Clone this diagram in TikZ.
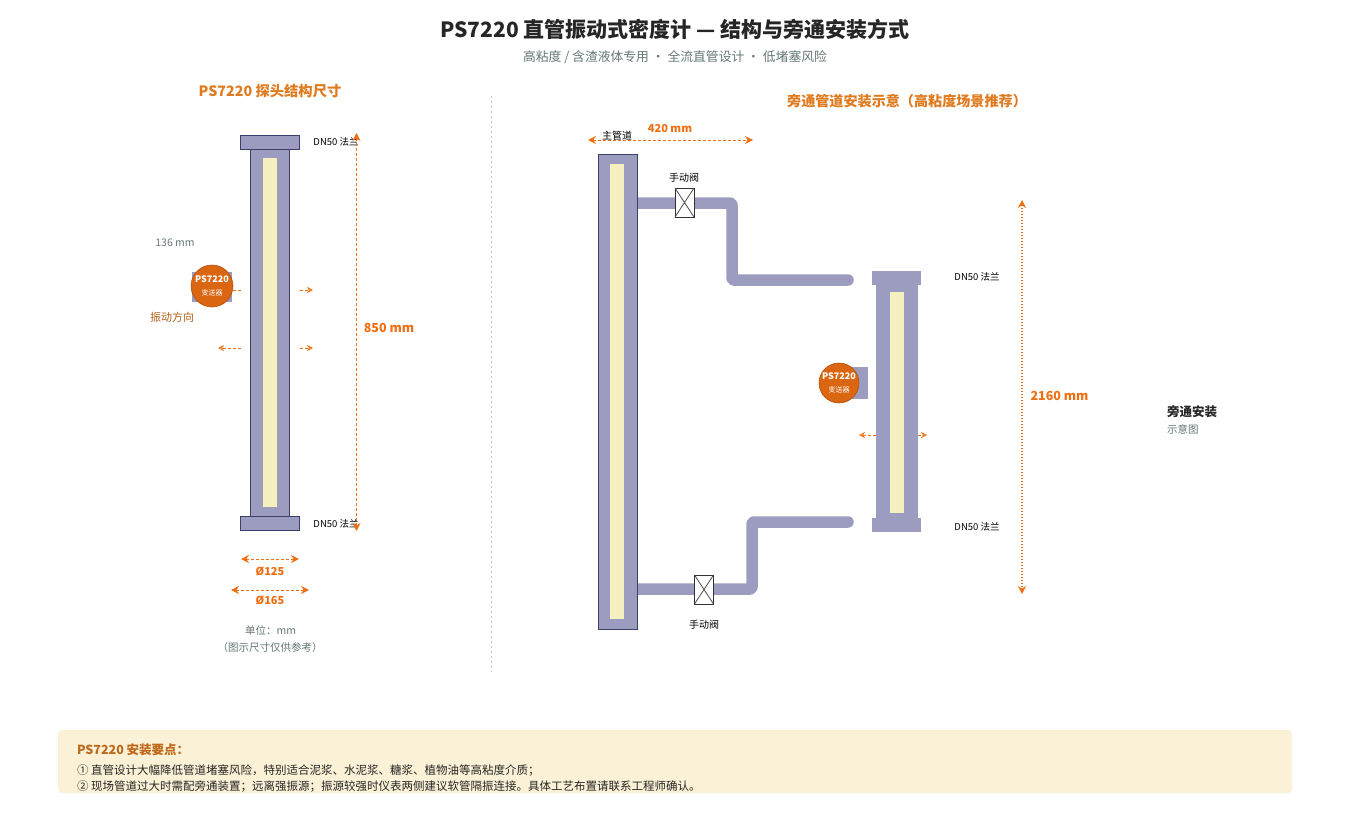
\documentclass[tikz,border=0pt]{standalone}
\usepackage{fontspec}
\setmainfont{Noto Sans CJK SC}
\usetikzlibrary{arrows.meta,calc}
\newcommand\fsz[1]{\fontsize{#1}{#1}\selectfont}
\definecolor{pipecol}{HTML}{9C9CC0}
\definecolor{linecol}{HTML}{3A4068}
\definecolor{corecol}{HTML}{F6EFC0}
\definecolor{dimcol}{HTML}{EE6F12}
\definecolor{headcol}{HTML}{E07A1E}
\definecolor{graycol}{HTML}{667777}
\definecolor{panelcol}{HTML}{FBF1D6}
\tikzset{
  lbl/.style={inner sep=0pt,outer sep=0pt,text=#1},
  lbl/.default=black,
  box/.style={inner sep=0pt,outer sep=0pt,rectangle,minimum width=#1},
  pipeO/.style={box=#1,fill=pipecol,draw=linecol,line width=.8pt},
  pipeN/.style={box=#1,fill=pipecol},
  core/.style={box=#1,fill=corecol},
  flow/.style={draw=pipecol,line width=11.5pt,line cap=round,line join=round,rounded corners=2pt},
  dim/.style={draw=dimcol,line width=1pt,dash pattern=on 3pt off 2pt,{Stealth[length=8pt,width=8pt]}-{Stealth[length=8pt,width=8pt]}},
  vib/.style={draw=dimcol,line width=.8pt,dash pattern=on 3pt off 2pt,-{Stealth[length=6pt,width=6pt,open]}},
  sensor/.style={circle,inner sep=0pt,outer sep=0pt,minimum size=#1,fill=dimcol!92!black,draw=dimcol!75!black,line width=.6pt,text=white,align=center},
  valvebox/.style={inner sep=0pt,outer sep=0pt,rectangle,minimum width=19pt,minimum height=29pt,fill=white,draw=black!80,line width=.8pt},
}
\begin{document}
\begin{tikzpicture}[x=1pt,y=-1pt]
\useasboundingbox (0,0) rectangle (1350,822);
\fill[white] (0,0) rectangle (1350,822);

% headings
\node[lbl=black!85,font=\fsz{21}\bfseries] (title) at (675,29.5) {PS7220 直管振动式密度计 — 结构与旁通安装方式};
\node[lbl=graycol,font=\fsz{12.8}] (subtitle) at (675,57.5) {高粘度 / 含渣液体专用 · 全流直管设计 · 低堵塞风险};
\node[lbl=headcol,font=\fsz{14.3}\bfseries] (lefthead) at (270,91) {PS7220 探头结构尺寸};
\node[lbl=headcol,font=\fsz{14.1}\bfseries] (righthead) at (907,101) {旁通管道安装示意（高粘度场景推荐）};

% divider
\coordinate (divtop) at (491.5,96);
\coordinate (divbot) at (491.5,672);
\draw[black!25,line width=1pt,dash pattern=on 2pt off 3pt] (divtop) -- (divbot);

% left probe
\node[pipeO=39pt,minimum height=367pt] (lbody) at (270,333) {};
\node[pipeO=59pt,minimum height=14pt] (lftop) at (270,142) {};
\node[pipeO=59pt,minimum height=14pt] (lfbot) at (270,523.5) {};
\node[core=14pt,minimum height=349pt] (lcore) at (270,332.5) {};

\coordinate (va2) at (218,290);
\coordinate (vb2) at (313,290);
\coordinate (vc2) at (218,348);
\coordinate (vd2) at (313,348);
\draw[vib] (lftop.west |- va2) -- (va2);
\draw[vib] (lftop.east |- vb2) -- (vb2);
\draw[vib] (lftop.west |- vc2) -- (vc2);
\draw[vib] (lftop.east |- vd2) -- (vd2);

\node[pipeN=40pt,minimum height=30pt] (lmount) at (212,287) {};
\node[sensor=42pt] (lsensor) at (212,286) {\fsz{9}\bfseries PS7220\\[1pt]\fsz{7}变送器};

\node[lbl,font=\fsz{9.5}] (ldntop) at (336,141.5) {DN50 法兰};
\node[lbl,font=\fsz{9.5}] (ldnbot) at (336,523.5) {DN50 法兰};
\node[lbl=graycol,font=\fsz{10.5}] (l136) at (175,243) {136 mm};
\node[lbl=headcol!80!black,font=\fsz{11}] (lvibtxt) at (172,317) {振动方向};
\node[lbl=dimcol,font=\fsz{12.5}\bfseries] (l850) at (389,328) {850 mm};

\coordinate (d850a) at (356.5,133);
\coordinate (d850b) at (356.5,531);
\draw[dim] (d850a) -- (d850b);

\coordinate (d125a) at (241,559);
\coordinate (d125b) at (299,559);
\draw[dim] (d125a) -- (d125b);
\node[lbl=dimcol,font=\fsz{11}\bfseries] (l125) at (270,571.5) {Ø125};
\coordinate (d165a) at (231,590);
\coordinate (d165b) at (309,590);
\draw[dim] (d165a) -- (d165b);
\node[lbl=dimcol,font=\fsz{11}\bfseries] (l165) at (270,600.5) {Ø165};
\node[lbl=graycol,font=\fsz{10.5}] (lunit) at (270.5,630) {单位：mm};
\node[lbl=graycol,font=\fsz{10.5}] (lnote) at (270,648) {（图示尺寸仅供参考）};

% bypass branches
\coordinate (t0) at (637,203);
\coordinate (t1) at (732,203);
\coordinate (t2) at (732,280);
\coordinate (t3) at (848,280);
\coordinate (b0) at (637,589);
\coordinate (b1) at (752,589);
\coordinate (b2) at (752,522);
\coordinate (b3) at (848,522);
\draw[flow] (t0) -- (t1) -- (t2) -- (t3);
\draw[flow] (b0) -- (b1) -- (b2) -- (b3);

% main pipe
\node[pipeO=39pt,minimum height=475pt] (mainp) at (617.5,391.5) {};
\node[core=14pt,minimum height=455pt] (maincore) at (617,391.5) {};

% valves
\node[valvebox] (v1) at (684.5,202.5) {};
\draw[black!70,line width=.8pt] (v1.north west) -- (v1.south east) (v1.north east) -- (v1.south west);
\node[valvebox] (v2) at (704,589.5) {};
\draw[black!70,line width=.8pt] (v2.north west) -- (v2.south east) (v2.north east) -- (v2.south west);
\node[lbl,font=\fsz{10}] (lv1) at (684,177.5) {手动阀};
\node[lbl,font=\fsz{10}] (lv2) at (704,624.5) {手动阀};
\node[lbl,font=\fsz{10}] (lmain) at (617,135.5) {主管道};

\coordinate (d420a) at (588,140);
\coordinate (d420b) at (753,140);
\draw[dim] (d420a) -- (d420b);
\node[lbl=dimcol,font=\fsz{11}\bfseries] (l420) at (670,129) {420 mm};

% right sensor
\node[pipeN=42pt,minimum height=248pt] (rbody) at (897,402) {};
\node[pipeN=49pt,minimum height=14pt] (rftop) at (896.5,277.5) {};
\node[pipeN=49pt,minimum height=14pt] (rfbot) at (896.5,525) {};
\node[core=14pt,minimum height=221pt] (rcore) at (897,402.5) {};
\node[pipeN=29pt,minimum height=32pt] (rmount) at (853.5,383) {};
\node[sensor=40pt] (rsensor) at (839,383) {\fsz{9}\bfseries PS7220\\[1pt]\fsz{7}变送器};

\coordinate (ra) at (859,435);
\coordinate (rb) at (927,435);
\draw[vib] (rbody.west |- ra) -- (ra);
\draw[vib] (rbody.east |- rb) -- (rb);

\node[lbl,font=\fsz{9.5}] (rdntop) at (977,276.5) {DN50 法兰};
\node[lbl,font=\fsz{9.5}] (rdnbot) at (977,526.5) {DN50 法兰};

\coordinate (d2160a) at (1022,200);
\coordinate (d2160b) at (1022,594);
\draw[dim,line width=1.2pt,dash pattern=on 1.5pt off 1.5pt] (d2160a) -- (d2160b);
\node[lbl=dimcol,font=\fsz{12.5}\bfseries] (l2160) at (1059.5,396) {2160 mm};

\node[lbl=black!85,font=\fsz{12.5}\bfseries,anchor=west] (rcap1) at (1167,411.5) {旁通安装};
\node[lbl=graycol,font=\fsz{10.5},anchor=west] (rcap2) at (1167,429.5) {示意图};

% notes panel
\node[inner sep=0pt,outer sep=0pt,rectangle,rounded corners=4pt,fill=panelcol,minimum width=1234pt,minimum height=63pt] (panel) at (675,761.5) {};
\node[lbl=headcol!85!black,font=\fsz{12.5}\bfseries,anchor=west] (phead) at (77,750) {PS7220 安装要点：};
\node[lbl=black!85,font=\fsz{11.5},anchor=west] (pl1) at (77,770.5) {① 直管设计大幅降低管道堵塞风险，特别适合泥浆、水泥浆、糖浆、植物油等高粘度介质；};
\node[lbl=black!85,font=\fsz{11.5},anchor=west] (pl2) at (77,786.5) {② 现场管道过大时需配旁通装置；远离强振源；振源较强时仪表两侧建议软管隔振连接。具体工艺布置请联系工程师确认。};
\end{tikzpicture}
\end{document}
